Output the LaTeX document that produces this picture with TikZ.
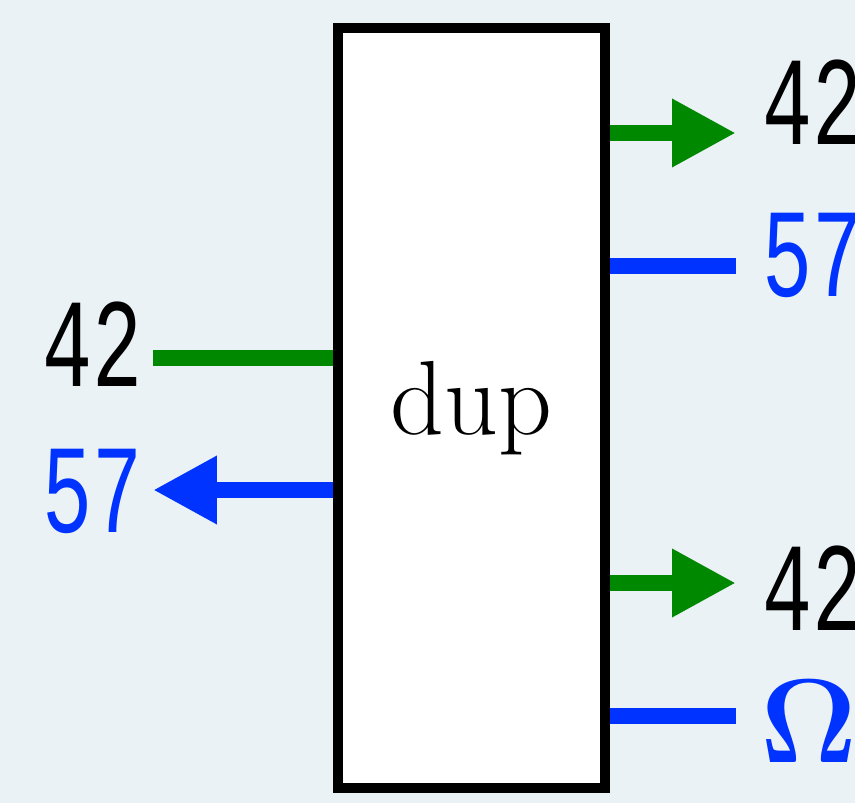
\documentclass[tikz,border=0pt]{standalone}
\usepackage{fontspec}
\usetikzlibrary{arrows.meta,positioning}
\newfontfamily\digitfont[FakeStretch=0.66]{Liberation Mono}
\definecolor{figBg}{RGB}{234,242,246}
\definecolor{figGreen}{RGB}{0,136,0}
\definecolor{figBlue}{RGB}{0,51,255}

\begin{document}
\begin{tikzpicture}[
  x=0.02cm,y=-0.02cm,
  >={Triangle[length=1.28cm,width=1.28cm]},
  opbox/.style={draw=black,line width=0.2cm,fill=white,minimum width=5.34cm,minimum height=15.2cm,inner sep=0pt,font=\fontsize{60}{60}\selectfont},
  num/.style={inner sep=0pt,font=\digitfont\fontsize{72}{72}\selectfont},
  wire/.style={line width=0.32cm}
]

\fill[figBg] (0,0) rectangle (855,803);
\useasboundingbox (0,0) rectangle (855,803);

\node[opbox] (box) at (471.5,408) {\raisebox{-5pt}{dup}};

% input side
\coordinate (inA) at (153,358);
\coordinate (inB) at (153,490);
\draw[wire,figGreen] (inA) -- (inA -| box.west);
\draw[wire,figBlue,->] (inB -| box.west) -- (inB);
\node[num,anchor=base east] (in42) at (143,387) {42};
\node[num,anchor=base east,text=figBlue] (in57) at (143,532) {57};

% output side
\coordinate (outA) at (736,133);
\coordinate (outB) at (736,266);
\coordinate (outC) at (736,583);
\coordinate (outD) at (736,716);
\draw[wire,figGreen,->] (outA -| box.east) -- (outA);
\draw[wire,figBlue] (outB -| box.east) -- (outB);
\draw[wire,figGreen,->] (outC -| box.east) -- (outC);
\draw[wire,figBlue] (outD -| box.east) -- (outD);
\node[num,anchor=base west] (out42a) at (762,145) {42};
\node[num,anchor=base west,text=figBlue] (out57) at (762,297) {57};
\node[num,anchor=base west] (out42b) at (762,630) {42};
\node[anchor=base west,inner sep=0pt,text=figBlue,font=\bfseries\fontsize{68}{68}\selectfont] (outOmega) at (760,762) {Ω};

\end{tikzpicture}
\end{document}
